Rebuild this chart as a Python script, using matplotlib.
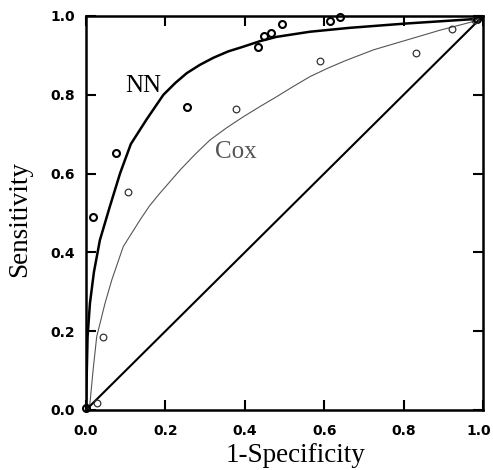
import matplotlib
matplotlib.use("Agg")
import matplotlib.pyplot as plt
import matplotlib.transforms as mtransforms

# ROC curves
nn_fpr = [0.0, 0.001, 0.004, 0.010, 0.020, 0.035, 0.060, 0.086, 0.113, 0.153,
          0.195, 0.225, 0.254, 0.287, 0.321, 0.358, 0.396, 0.438, 0.480, 0.564,
          0.665, 0.808, 0.976, 1.0]
nn_tpr = [0.0, 0.05, 0.186, 0.271, 0.350, 0.431, 0.516, 0.601, 0.675, 0.738,
          0.800, 0.830, 0.855, 0.876, 0.894, 0.910, 0.922, 0.936, 0.947, 0.960,
          0.970, 0.981, 0.992, 1.0]

cox_fpr = [0.0, 0.010, 0.018, 0.027, 0.048, 0.065, 0.094, 0.136, 0.160, 0.186,
           0.212, 0.237, 0.274, 0.312, 0.354, 0.396, 0.438, 0.480, 0.522, 0.564,
           0.608, 0.652, 0.724, 0.808, 0.892, 0.976, 1.0]
cox_tpr = [0.0, 0.017, 0.102, 0.186, 0.271, 0.330, 0.415, 0.482, 0.518, 0.550,
           0.580, 0.609, 0.648, 0.685, 0.716, 0.744, 0.770, 0.795, 0.821, 0.846,
           0.867, 0.886, 0.914, 0.939, 0.964, 0.986, 1.0]

# observed points
nn_pts_x = [0.0, 0.017, 0.076, 0.255, 0.434, 0.448, 0.465, 0.493, 0.615, 0.640, 0.984]
nn_pts_y = [0.004, 0.489, 0.653, 0.770, 0.922, 0.948, 0.958, 0.980, 0.988, 0.997, 0.992]

cox_pts_x = [0.027, 0.042, 0.105, 0.378, 0.589, 0.831, 0.921, 0.98]
cox_pts_y = [0.017, 0.186, 0.552, 0.764, 0.886, 0.907, 0.967, 0.99]

ticks = [0.0, 0.2, 0.4, 0.6, 0.8, 1.0]
tick_labels = ["0.0", "0.2", "0.4", "0.6", "0.8", "1.0"]

fig = plt.figure(figsize=(4.93, 4.70), dpi=100)
ax = fig.add_axes([0.1744, 0.1277, 0.8053, 0.8383])

ax.plot([0, 1], [0, 1], color="black", lw=1.5)
ax.plot(cox_fpr, cox_tpr, color="#555555", lw=0.8)
ax.plot(nn_fpr, nn_tpr, color="black", lw=1.8)

ax.plot(nn_pts_x, nn_pts_y, "o", ms=5, mfc="none", mec="black", mew=1.5, clip_on=False)
ax.plot(cox_pts_x, cox_pts_y, "o", ms=4.8, mfc="none", mec="#333333", mew=0.9, clip_on=False)

ax.text(0.145, 0.822, "NN", fontsize=18, family="Liberation Serif", ha="center", va="center")
ax.text(0.377, 0.654, "Cox", fontsize=18, family="Liberation Serif", color="#555555",
        ha="center", va="center")

ax.set_xlim(0, 1)
ax.set_ylim(0, 1)
ax.set_xticks(ticks)
ax.set_yticks(ticks)
ax.set_xticklabels(tick_labels, fontweight="bold", fontsize=10)
ax.set_yticklabels(tick_labels, fontweight="bold", fontsize=10)
ax.tick_params(direction="in", length=7, width=1.5, top=True, right=True, pad=8)
ax.tick_params(axis="x", pad=10)
for s in ax.spines.values():
    s.set_linewidth(1.8)

# keep the last x label inside the figure
last = ax.get_xticklabels()[-1]
last.set_transform(last.get_transform() + mtransforms.ScaledTranslation(-4 / 100, 0, fig.dpi_scale_trans))

ax.set_xlabel("1-Specificity", fontsize=19.5, family="Liberation Serif")
ax.set_ylabel("Sensitivity", fontsize=19.5, family="Liberation Serif")
ax.xaxis.set_label_coords(0.529, -0.085)
ax.yaxis.set_label_coords(-0.135, 0.485)

fig.savefig("out.png", dpi=100)
